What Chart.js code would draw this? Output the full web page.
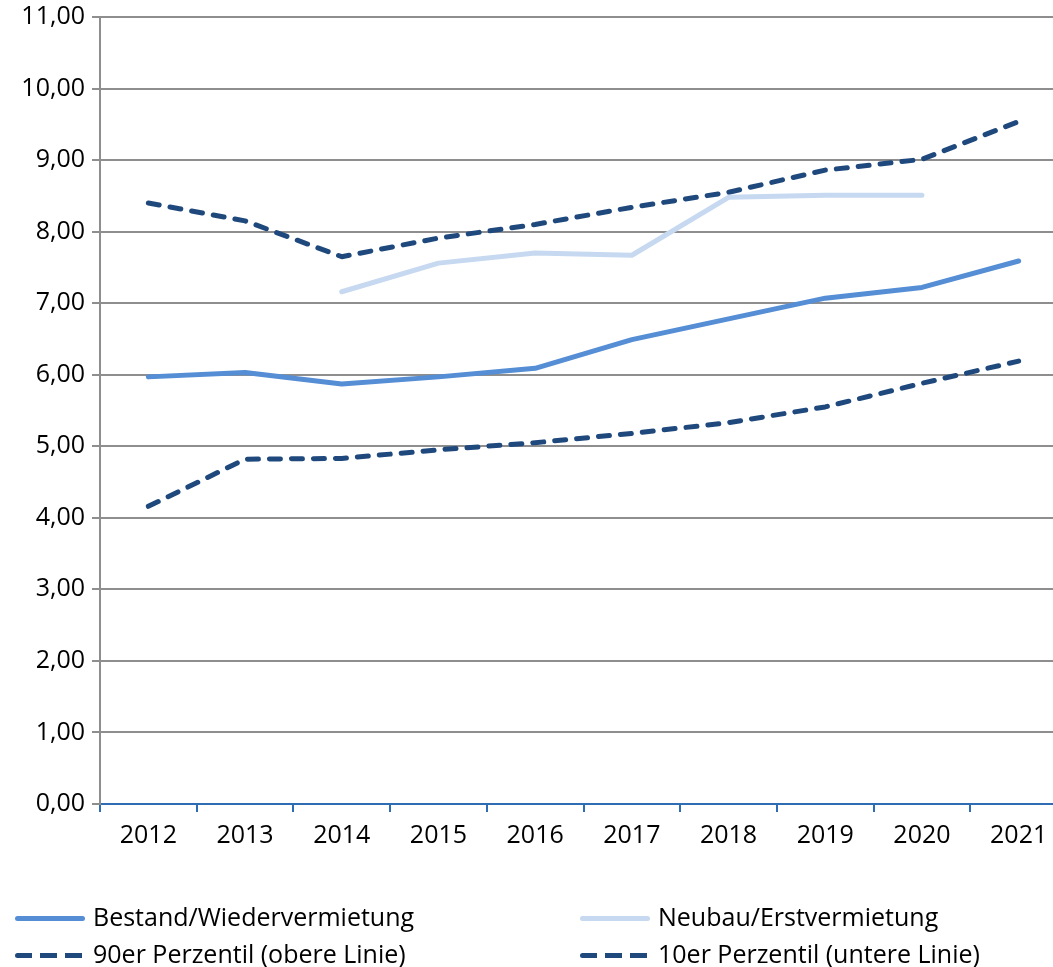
<!DOCTYPE html>
<html><head><meta charset="utf-8">
<script src="https://cdn.jsdelivr.net/npm/chart.js@4/dist/chart.umd.min.js"></script>
<style>
html,body{margin:0;padding:0;background:#fff;overflow:hidden;width:1053px;height:967px;}
#wrap{position:relative;width:1075px;height:967px;}
canvas{position:absolute;left:0;top:0;}
.leg{position:absolute;font-family:"Open Sans",sans-serif;font-size:25px;color:#000;white-space:nowrap;line-height:30px;}
.leg span.s{display:inline-block;vertical-align:middle;width:70px;height:5px;margin-right:8px;position:relative;top:-1px;border-radius:3px;}
</style></head><body>
<div id="wrap"><canvas id="c" width="1075" height="967"></canvas></div>
<script>
const categories = ["2012","2013","2014","2015","2016","2017","2018","2019","2020","2021"];
const bestand = [5.97, 6.03, 5.87, 5.97, 6.09, 6.49, 6.78, 7.07, 7.22, 7.59];
const neubau = [null, null, 7.16, 7.56, 7.70, 7.67, 8.48, 8.51, 8.51, null];
const p90 = [8.40, 8.15, 7.65, 7.91, 8.10, 8.34, 8.55, 8.86, 9.01, 9.54];
const p10 = [4.16, 4.82, 4.83, 4.95, 5.05, 5.18, 5.33, 5.55, 5.88, 6.19];
const labels = ["Bestand/Wiedervermietung","Neubau/Erstvermietung","90er Perzentil (obere Linie)","10er Perzentil (untere Linie)"];
const yTicks = {min:0, max:11, step:1};

const FONT = "'Open Sans', sans-serif";
const cBest = "#558ED5", cNeu = "#C6D9F1", cDash = "#1F497D";
const ds = (label, data, color, dash) => ({label, data, borderColor: color, backgroundColor: color,
  borderWidth: 5, pointRadius: 0, pointHoverRadius: 0, tension: 0, spanGaps: false,
  borderDash: dash ? [11, 11] : [], borderCapStyle: 'round', borderJoinStyle: 'round', fill: false});

const chart = new Chart(document.getElementById('c'), {
  type: 'line',
  data: { labels: categories, datasets: [
    ds(labels[0], bestand, cBest, false),
    ds(labels[1], neubau, cNeu, false),
    ds(labels[2], p90, cDash, true),
    ds(labels[3], p10, cDash, true)
  ]},
  options: {
    responsive: false, animation: false, devicePixelRatio: 1,
    layout: { padding: { left: 0, right: 8, top: 17, bottom: 0 } },
    plugins: { legend: { display: false }, tooltip: { enabled: false } },
    scales: {
      x: {
        offset: true,
        grid: { offset: true, drawOnChartArea: false, drawTicks: true, tickLength: 8, color: "#2E6DB4", lineWidth: 2 },
        border: { display: true, color: "#2E6DB4", width: 2 },
        ticks: { font: { family: FONT, size: 25 }, color: "#000", padding: 9, maxRotation: 0 },
        afterFit: s => { s.height = 163; }
      },
      y: {
        min: yTicks.min, max: yTicks.max,
        grid: { color: "#8E8E8E", lineWidth: 2, tickLength: 8 },
        border: { display: true, color: "#8E8E8E", width: 2 },
        ticks: { stepSize: yTicks.step, font: { family: FONT, size: 25 }, color: "#000", padding: 7,
          callback: v => v.toFixed(2).replace('.', ',') },
        afterFit: s => { s.width = 100; s.paddingTop = 0; }
      }
    }
  }
});
// enforce chart area top by re-layout if needed
if (Math.round(chart.chartArea.top) !== 17) {
  const d = chart.chartArea.top - 17;
  chart.options.layout.padding.top = 17 - d;
  chart.update();
}

// HTML legend built from datasets
const pos = [[15, 916], [580, 916], [15, 953], [580, 953]];
chart.data.datasets.forEach((d, i) => {
  const el = document.createElement('div');
  el.className = 'leg';
  el.style.left = pos[i][0] + 'px';
  el.style.top = (pos[i][1] - 15) + 'px';
  const sw = document.createElement('span');
  sw.className = 's';
  sw.style.background = d.borderDash.length
    ? 'repeating-linear-gradient(90deg,' + d.borderColor + ' 0 17px, transparent 17px 25px)'
    : d.borderColor;
  el.appendChild(sw);
  el.appendChild(document.createTextNode(d.label));
  document.getElementById('wrap').appendChild(el);
});
</script>
</body></html>
